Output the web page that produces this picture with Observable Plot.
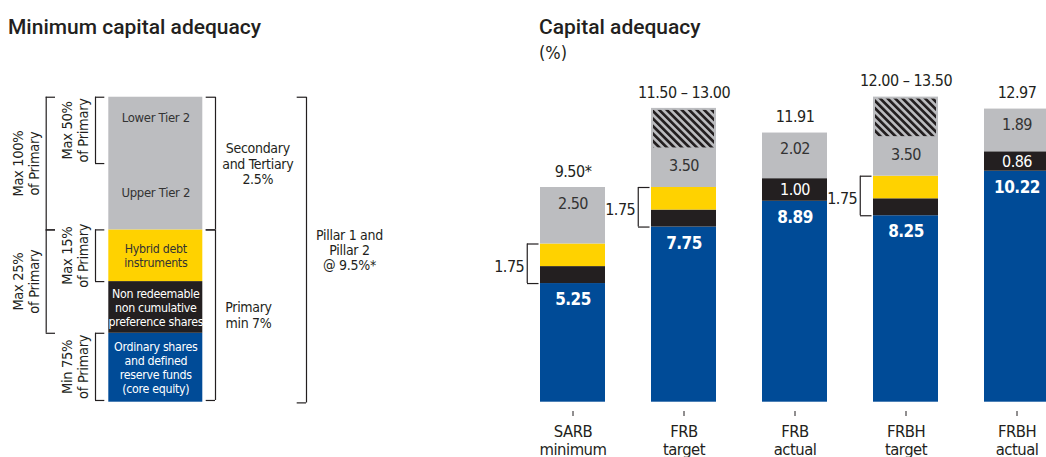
<!DOCTYPE html>
<html>
<head>
<meta charset="utf-8">
<script src="https://cdn.jsdelivr.net/npm/d3@7"></script>
<script src="https://cdn.jsdelivr.net/npm/@observablehq/plot@0.6"></script>
<style>
  html, body { margin: 0; padding: 0; background: #fff; }
  #wrap { position: relative; width: 1046px; height: 457px; overflow: hidden; }
  #wrap > svg { position: absolute; top: 0; }
</style>
</head>
<body>
<div id="wrap"></div>
<script>
// ---------------- Data: right chart ----------------
const categories = ["SARB\nminimum", "FRB\ntarget", "FRB\nactual", "FRBH\ntarget", "FRBH\nactual"];
const coreEquity = [5.25, 7.75, 8.89, 8.25, 10.22];   // blue
const preference = [0.75, 0.75, 1.00, 0.75, 0.86];     // black
const hybridDebt = [1.00, 1.00, 0, 1.00, 0];           // yellow
const secondary  = [2.50, 3.50, 2.02, 3.50, 1.89];     // grey
const hatchedTop = [0, 1.75, 0, 1.75, 0];              // hatched target range part
const totalLabels = ["9.50*", "11.50 \u2013 13.00", "11.91", "12.00 \u2013 13.50", "12.97"];
const bracketLabels = ["1.75", "1.75", null, "1.75", null];

// ---------------- Data: left schematic ----------------
const tierNames = ["Ordinary shares\nand defined\nreserve funds\n(core equity)", "Non redeemable\nnon cumulative\npreference shares", "Hybrid debt\ninstruments", "Upper Tier 2", "Lower Tier 2"];
const tierSizes = [4, 3, 3, 3.85, 3.85];   // schematic units
const tierKeys = ["core", "pref", "hybrid", "tier2", "tier2"];

const colors = {core: "#004b97", pref: "#231f20", hybrid: "#ffd200", tier2: "#bcbdc0"};
const ink = "#231f20";
const FONT = '"Liberation Sans Narrow", "DejaVu Sans Condensed", "DejaVu Sans", sans-serif';

const wrap = document.getElementById("wrap");

// ================= RIGHT CHART =================
const rows = categories.map((c, i) => {
  const b0 = 0, b1 = coreEquity[i];
  const p1 = b1 + preference[i];
  const h1 = p1 + hybridDebt[i];
  const g1 = h1 + secondary[i];
  return {cat: c, i, b0, b1, p1, h1, g1, hatch0: g1 - hatchedTop[i], hasHatch: hatchedTop[i] > 0,
          hasHybrid: hybridDebt[i] > 0, total: totalLabels[i], bracket: bracketLabels[i]};
});

const xRange = [60, 569.5];
const padInner = 0.41;
const step = (xRange[1] - xRange[0]) / (categories.length - padInner);
const bw = step * (1 - padInner);

const right = Plot.plot({
  width: 566,
  height: 457,
  marginLeft: 60,
  marginRight: 0,
  marginTop: 0,
  marginBottom: 46,
  style: {fontFamily: FONT, background: "transparent", overflow: "visible", letterSpacing: "-0.5px"},
  x: {type: "band", domain: categories, range: xRange, paddingInner: padInner, paddingOuter: 0},
  y: {domain: [0, 15], range: [401.7, 401.7 - 15 * 22.6], axis: null},
  marks: [
    // stacked segments
    Plot.rect(rows, {x: "cat", y1: "b0", y2: "b1", fill: colors.core}),
    Plot.rect(rows, {x: "cat", y1: "b1", y2: "p1", fill: colors.pref}),
    Plot.rect(rows.filter(d => d.hasHybrid), {x: "cat", y1: "p1", y2: "h1", fill: colors.hybrid}),
    Plot.rect(rows, {x: "cat", y1: "h1", y2: "g1", fill: colors.tier2}),
    Plot.rect(rows.filter(d => d.hasHatch), {x: "cat", y1: "hatch0", y2: "g1", fill: "url(#hatch)", insetLeft: 2, insetRight: 2, insetTop: 2}),
    // axis
    Plot.axisX({tickSize: 5, tickPadding: 8, fontSize: 16.5, lineHeight: 1.07, stroke: ink, color: ink, line: true, label: null}),
    // value labels
    Plot.text(rows, {x: "cat", y: "b1", text: d => coreEquity[d.i].toFixed(2), dy: 16, fill: "white", fontWeight: "bold", fontSize: 17}),
    Plot.text(rows.filter(d => !d.hasHybrid), {x: "cat", y: d => (d.b1 + d.p1) / 2, text: d => preference[d.i].toFixed(2), fill: "white", fontSize: 16}),
    Plot.text(rows.filter(d => !d.hasHatch), {x: "cat", y: "g1", text: d => secondary[d.i].toFixed(2), dy: 16, fill: "#333", fontSize: 16}),
    Plot.text(rows.filter(d => d.hasHatch), {x: "cat", y: d => (d.h1 + d.hatch0) / 2, text: d => secondary[d.i].toFixed(2), dy: -2, fill: "#333", fontSize: 16}),
    Plot.text(rows, {x: "cat", y: "g1", text: "total", dy: -16, fill: ink, fontSize: 16}),
    // 1.75 brackets
    Plot.ruleX(rows.filter(d => d.hasHybrid), {x: "cat", y1: "b1", y2: "h1", dx: -(bw / 2 + 13), stroke: ink, strokeWidth: 1.2}),
    Plot.tickY(rows.filter(d => d.hasHybrid), {x: "cat", y: "b1", dx: -13, insetRight: bw - 12, stroke: ink, strokeWidth: 1.2}),
    Plot.tickY(rows.filter(d => d.hasHybrid), {x: "cat", y: "h1", dx: -13, insetRight: bw - 12, stroke: ink, strokeWidth: 1.2}),
    Plot.text(rows.filter(d => d.hasHybrid), {x: "cat", y: d => (d.b1 + d.h1) / 2, text: "bracket", dx: -(bw / 2 + 16), dy: 3, textAnchor: "end", fill: ink, fontSize: 16})
  ]
});
right.style.left = "480px";
// hatch pattern
const defs = d3.select(right).insert("defs", ":first-child");
const pat = defs.append("pattern").attr("id", "hatch").attr("patternUnits", "userSpaceOnUse")
  .attr("width", 5.3).attr("height", 5.3).attr("patternTransform", "rotate(-45)");
pat.append("rect").attr("width", 5.3).attr("height", 5.3).attr("fill", colors.tier2);
pat.append("rect").attr("width", 2.7).attr("height", 5.3).attr("fill", ink);

// ================= LEFT SCHEMATIC =================
let acc = 0;
const tiers = tierNames.map((name, i) => {
  const y1 = acc; acc += tierSizes[i];
  return {name, key: tierKeys[i], y1, y2: acc};
});
const tierTop = acc;                       // top of column
const tier2Bottom = tiers[3].y1;           // secondary starts
const tier2Mid = tiers[4].y1;
const hybridBottom = tiers[2].y1;
const coreTop = tiers[0].y2;

// layout (schematic units, x in px-like units)
const colX = [108.3, 202.3];
const brackets = [
  {x: 95, t: 9.3, y1: tier2Mid, y2: tierTop, label: "Max 50%\nof Primary", lx: 74.5, rot: true},
  {x: 95, t: 9.3, y1: hybridBottom, y2: tier2Bottom, label: "Max 15%\nof Primary", lx: 74.5, rot: true},
  {x: 95, t: 9.3, y1: 0.1, y2: coreTop, label: "Min 75%\nof Primary", lx: 74.5, rot: true},
  {x: 45.7, t: 9.3, y1: tier2Bottom, y2: tierTop, label: "Max 100%\nof Primary", lx: 25, rot: true},
  {x: 45.7, t: 9.3, y1: coreTop, y2: tier2Bottom, label: "Max 25%\nof Primary", lx: 25, rot: true},
  {x: 215, t: -9.3, y1: tier2Bottom, y2: tierTop, label: "Secondary\nand Tertiary\n2.5%", lx: 257.3, rot: false},
  {x: 215, t: -9.3, y1: 0.1, y2: tier2Bottom, label: "Primary\nmin 7%", lx: 248, rot: false},
  {x: 306, t: -9.3, y1: -0.04, y2: tierTop, label: "Pillar 1 and\nPillar 2\n@ 9.5%*", lx: 349, rot: false}
];

const left = Plot.plot({
  width: 480,
  height: 457,
  margin: 0,
  style: {fontFamily: FONT, background: "transparent", overflow: "visible", letterSpacing: "-0.3px"},
  x: {domain: [0, 480], range: [0, 480], axis: null},
  y: {domain: [0, tierTop], range: [401.7, 401.7 - tierTop * 17.23], axis: null},
  marks: [
    Plot.rect(tiers.filter(d => d.key !== "tier2"), {x1: colX[0], x2: colX[1], y1: "y1", y2: "y2", fill: d => colors[d.key]}),
    Plot.rect([{y1: tier2Bottom, y2: tierTop}], {x1: colX[0], x2: colX[1], y1: "y1", y2: "y2", fill: colors.tier2}),
    Plot.text(tiers.slice(0, 3), {x: (colX[0] + colX[1]) / 2, y: d => (d.y1 + d.y2) / 2, text: "name", fontSize: 12.3, lineHeight: 1.15,
      fill: d => d.key === "hybrid" ? "#333" : "white"}),
    Plot.text(tiers.slice(3, 4), {x: (colX[0] + colX[1]) / 2, y: d => (d.y1 + d.y2) / 2, text: "name", dy: -4, fontSize: 13, fill: "#333"}),
    Plot.text(tiers.slice(4, 5), {x: (colX[0] + colX[1]) / 2, y: d => (d.y1 + d.y2) / 2, text: "name", dy: -13, fontSize: 13, fill: "#333"}),
    Plot.ruleX(brackets, {x: "x", y1: "y1", y2: "y2", stroke: ink, strokeWidth: 1.2}),
    Plot.ruleY(brackets, {x1: "x", x2: d => d.x + d.t, y: "y1", stroke: ink, strokeWidth: 1.2}),
    Plot.ruleY(brackets, {x1: "x", x2: d => d.x + d.t, y: "y2", stroke: ink, strokeWidth: 1.2}),
    Plot.text(brackets.filter(d => d.rot), {x: "lx", y: d => (d.y1 + d.y2) / 2, text: "label", rotate: -90, fontSize: 14.5, lineHeight: 1.12, fill: ink}),
    Plot.text(brackets.filter(d => !d.rot), {x: "lx", y: d => (d.y1 + d.y2) / 2, text: "label", fontSize: 14, lineHeight: 1.1, fill: ink})
  ]
});
left.style.left = "0px";

wrap.appendChild(left);
wrap.appendChild(right);

// ================= TITLES =================
const titles = d3.create("svg").attr("width", 1046).attr("height", 457).style("left", "0px").style("pointer-events", "none");
titles.append("text").attr("x", 8).attr("y", 34).attr("fill", ink)
  .style("font-family", "Roboto, 'Open Sans', sans-serif").style("font-weight", 500).style("font-size", "21px")
  .text("Minimum capital adequacy");
titles.append("text").attr("x", 539).attr("y", 34).attr("fill", ink)
  .style("font-family", "Roboto, 'Open Sans', sans-serif").style("font-weight", 500).style("font-size", "21px")
  .text("Capital adequacy");
titles.append("text").attr("x", 539).attr("y", 59).attr("fill", ink)
  .style("font-family", FONT).style("font-size", "18px")
  .text("(%)");
wrap.appendChild(titles.node());
</script>
</body>
</html>
